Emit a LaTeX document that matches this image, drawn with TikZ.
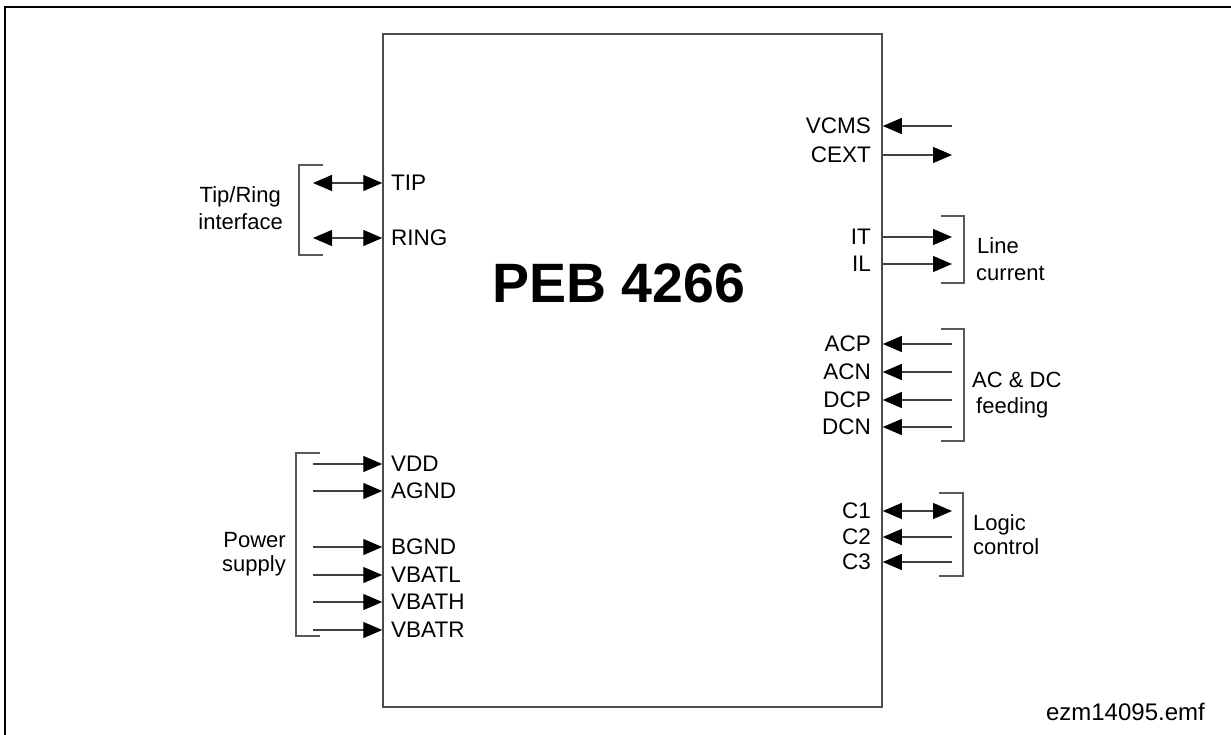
\documentclass[tikz,border=0pt]{standalone}
\usepackage{fontspec}
\setmainfont{Liberation Sans}
\usetikzlibrary{arrows.meta}
\begin{document}
\begin{tikzpicture}[x=1pt,y=-1pt,
  pin/.style={inner sep=0pt,font=\fontsize{22.5}{26}\selectfont},
  grp/.style={inner sep=0pt,font=\fontsize{22}{26}\selectfont},
  sig/.style={line width=1.1pt,draw=black!75},
  tipR/.style={sig,-{Triangle[length=19pt,width=16pt,black]}},
  tipB/.style={sig,{Triangle[length=19pt,width=16pt,black]}-{Triangle[length=19pt,width=16pt,black]}},
  brk/.style={line width=1.2pt,draw=black!65}]
\useasboundingbox (0,0) rectangle (1231,735);
% outer frame (extends beyond the page on right and bottom)
\draw[line width=2pt] (5,760) -- (5,7) -- (1260,7);
% chip
\node[draw=black!70,line width=1.5pt,minimum width=499pt,minimum height=673pt,inner sep=0pt] (chip) at (632.5,370.5) {};
\node[inner sep=0pt,font=\fontsize{55.5}{60}\selectfont\bfseries] (title) at (618.5,283.5) {PEB 4266};
% left pins
\foreach \n/\t/\y in {tip/TIP/183,ring/RING/238,vdd/VDD/464,agnd/AGND/491,bgnd/BGND/547,vbatl/VBATL/575,vbath/VBATH/602,vbatr/VBATR/630}{
  \node[pin,anchor=west] (\n) at (391,\y) {\t};
  \coordinate (\n-e) at (313,\y);
}
\draw[tipB] (tip-e) -- (tip-e -| chip.west);
\draw[tipB] (ring-e) -- (ring-e -| chip.west);
\foreach \n in {vdd,agnd,bgnd,vbatl,vbath,vbatr}{
  \draw[tipR] (\n-e) -- (\n-e -| chip.west);
}
% right pins
\foreach \n/\t/\y in {vcms/VCMS/126,cext/CEXT/155,it/IT/237,il/IL/264,acp/ACP/344,acn/ACN/372,dcp/DCP/400,dcn/DCN/427,ca/C1/511,cb/C2/537,cc/C3/562}{
  \node[pin,anchor=east] (\n) at (871,\y) {\t};
  \coordinate (\n-e) at (952,\y);
}
\foreach \n in {vcms,acp,acn,dcp,dcn,cb,cc}{
  \draw[tipR] (\n-e) -- (\n-e -| chip.east);
}
\foreach \n in {cext,it,il}{
  \draw[tipR] (\n-e -| chip.east) -- (\n-e);
}
\draw[tipB] (ca-e -| chip.east) -- (ca-e);
% brackets
\draw[brk] (323,165) -- (299,165) -- (299,255) -- (323,255);
\draw[brk] (320,453) -- (296,453) -- (296,636) -- (320,636);
\draw[brk] (941,216) -- (964,216) -- (964,283) -- (941,283);
\draw[brk] (941,329) -- (964,329) -- (964,441) -- (941,441);
\draw[brk] (939,493) -- (963,493) -- (963,576) -- (939,576);
% group labels
\node[grp,anchor=base east] (g1a) at (281,203) {Tip/Ring};
\node[grp,anchor=base east] (g1b) at (283,230) {interface};
\node[grp,anchor=base east] (g2a) at (286,547) {Power};
\node[grp,anchor=base east] (g2b) at (286,571) {supply};
\node[grp,anchor=base west] (g3a) at (977,254) {Line};
\node[grp,anchor=base west] (g3b) at (976,280) {current};
\node[grp,anchor=base west] (g4a) at (972,387) {AC \& DC};
\node[grp,anchor=base west] (g4b) at (976,413) {feeding};
\node[grp,anchor=base west] (g5a) at (973,530) {Logic};
\node[grp,anchor=base west] (g5b) at (973,554) {control};
% file name
\node[inner sep=0pt,font=\fontsize{24}{28}\selectfont,anchor=base east] (fname) at (1205,720) {ezm14095.emf};
\end{tikzpicture}
\end{document}
